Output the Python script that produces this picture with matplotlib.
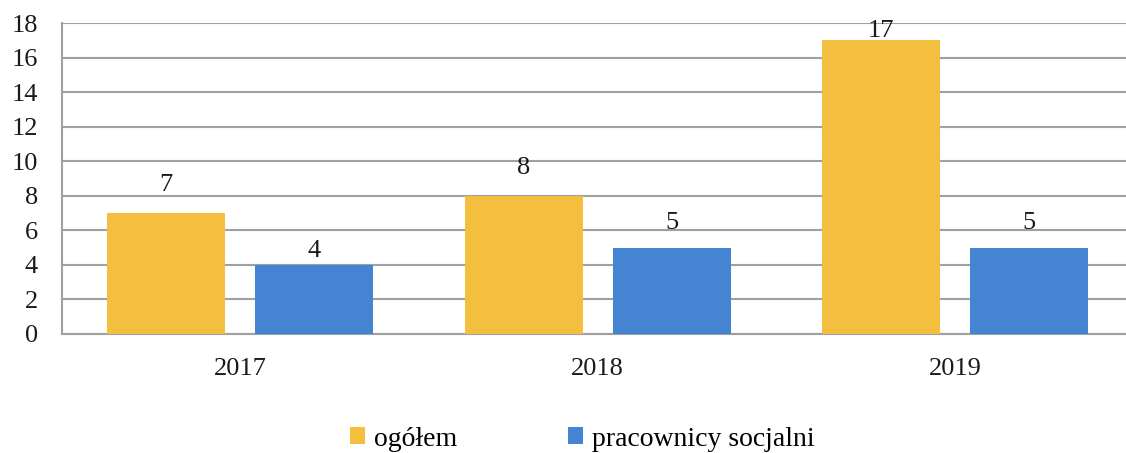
import numpy as np
import matplotlib.pyplot as plt

years = ["2017", "2018", "2019"]
ogolem = [7, 8, 17]  # ogółem
pracownicy = [4, 5, 5]  # pracownicy socjalni

plt.rcParams['font.family'] = ['Liberation Serif', 'DejaVu Serif']
plt.rcParams['font.size'] = 19

fig = plt.figure(figsize=(11.26, 4.53), dpi=100)
# axes runs a little past the right edge, like the cropped original
ax = fig.add_axes([61.5 / 1126, 1 - 334 / 453, 1072.5 / 1126, 311 / 453])

x = np.arange(len(years))
w = 0.33
b1 = ax.bar(x - 0.207, ogolem, w, color="#F4BF3F", label="ogółem", zorder=3)
b2 = ax.bar(x + 0.207, pracownicy, w, color="#4584D3", label="pracownicy socjalni", zorder=3)

# value labels above bars, kept inside the plot area
for bars, offs in ((b1, 12), (b2, 10)):
    for r in bars:
        h = r.get_height()
        if h >= 16:
            offs_h = -1
        elif h < 4.5:
            offs_h = 2
        else:
            offs_h = offs
        ax.annotate(str(int(h)), (r.get_x() + r.get_width() / 2, h),
                    xytext=(0, offs_h), textcoords="offset points",
                    ha="center", va="bottom", color="#1a1a1a", zorder=4)

ax.set_xlim(-0.5, 2.5)
ax.set_ylim(0, 18)
ax.set_yticks(range(0, 19, 2))
ax.set_xticks(x)
ax.set_xticklabels(years)
ax.yaxis.grid(True, color="#A0A0A0", linewidth=1.5, zorder=0)
for s in ["top", "right"]:
    ax.spines[s].set_visible(False)
for s in ["left", "bottom"]:
    ax.spines[s].set_color("#A0A0A0")
    ax.spines[s].set_linewidth(1.5)
ax.tick_params(length=0, labelcolor="#1a1a1a")
ax.tick_params(axis="x", pad=17)
ax.tick_params(axis="y", pad=17)

fig.legend(loc="center", bbox_to_anchor=(0.517, 1 - 439 / 453), ncol=2, frameon=False,
           handlelength=0.55, handleheight=0.55, handletextpad=0.3, columnspacing=4.0,
           fontsize=20)

fig.savefig("out.png", dpi=100)
